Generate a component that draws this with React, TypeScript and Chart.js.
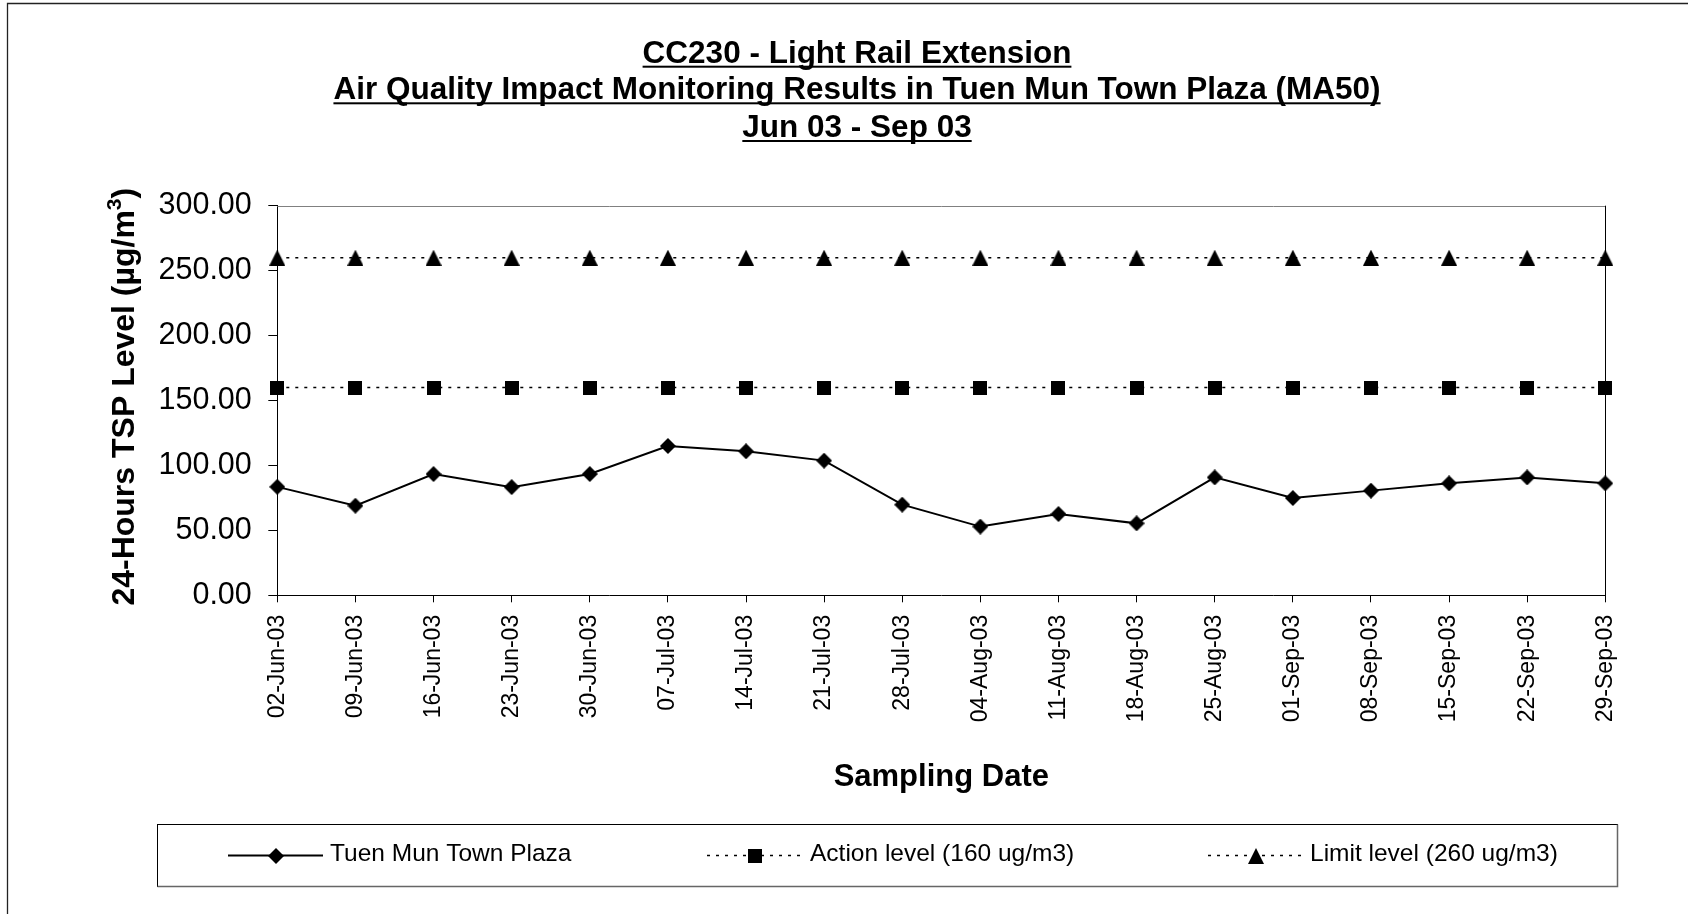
import React, { useEffect, useRef } from 'react';
import { Chart, registerables } from 'chart.js';

Chart.register(...registerables);

const categories = [
  '02-Jun-03', '09-Jun-03', '16-Jun-03', '23-Jun-03', '30-Jun-03', '07-Jul-03',
  '14-Jul-03', '21-Jul-03', '28-Jul-03', '04-Aug-03', '11-Aug-03', '18-Aug-03',
  '25-Aug-03', '01-Sep-03', '08-Sep-03', '15-Sep-03', '22-Sep-03', '29-Sep-03',
];
const plazaValues = [83.5, 69.0, 93.4, 83.3, 93.4, 115.0, 110.9, 103.7, 69.8, 52.9, 62.6, 55.4, 90.8, 74.9, 80.6, 86.2, 90.8, 86.2];
const actionValues = [160, 160, 160, 160, 160, 160, 160, 160, 160, 160, 160, 160, 160, 160, 160, 160, 160, 160];
const limitValues = [260, 260, 260, 260, 260, 260, 260, 260, 260, 260, 260, 260, 260, 260, 260, 260, 260, 260];
const seriesLabels = ['Tuen Mun Town Plaza', 'Action level (160 ug/m3)', 'Limit level (260 ug/m3)'];
const titleLines = [
  'CC230 - Light Rail Extension',
  'Air Quality Impact Monitoring Results in Tuen Mun Town Plaza (MA50)',
  'Jun 03 - Sep 03',
];
const yMin = 0;
const yMax = 300;
const yStep = 50;
const xAxisTitle = 'Sampling Date';
const yAxisTitleMain = '24-Hours TSP Level (\u00b5g/m';
const yAxisTitleSup = '3';
const yAxisTitleEnd = ')';

const FONT = '"Liberation Sans", Arial, sans-serif';

function makeMarker(kind: string): HTMLCanvasElement {
  const c = document.createElement('canvas');
  let w = 16, h = 16;
  if (kind === 'square') { w = 14; h = 14; }
  if (kind === 'triangle') { w = 16; h = 16; }
  c.width = w; c.height = h;
  const g = c.getContext('2d')!;
  g.fillStyle = '#000';
  g.beginPath();
  if (kind === 'diamond') {
    g.moveTo(w / 2, 0); g.lineTo(w, h / 2); g.lineTo(w / 2, h); g.lineTo(0, h / 2);
  } else if (kind === 'square') {
    g.rect(0, 0, w, h);
  } else {
    g.moveTo(w / 2, 0); g.lineTo(w, h); g.lineTo(0, h);
  }
  g.closePath();
  g.fill();
  return c;
}

export default function App() {
  const ref = useRef<HTMLCanvasElement | null>(null);

  useEffect(() => {
    if (!ref.current) return;
    const diamond = makeMarker('diamond');
    const square = makeMarker('square');
    const triangle = makeMarker('triangle');
    const markers = [diamond, square, triangle];

    const decor = {
      id: 'decor',
      beforeDraw(chart: any) {
        const ctx = chart.ctx;
        ctx.save();
        ctx.fillStyle = '#fff';
        ctx.fillRect(0, 0, chart.width, chart.height);
        ctx.restore();
      },
      beforeDatasetsDraw(chart: any) {
        const { ctx, chartArea } = chart;
        ctx.save();
        ctx.lineWidth = 1;
        ctx.strokeStyle = '#808080';
        ctx.beginPath();
        ctx.moveTo(chartArea.left, Math.round(chartArea.top) + 0.5);
        ctx.lineTo(chartArea.right, Math.round(chartArea.top) + 0.5);
        ctx.stroke();
        ctx.strokeStyle = '#000';
        ctx.beginPath();
        ctx.moveTo(Math.round(chartArea.right) + 0.5, chartArea.top);
        ctx.lineTo(Math.round(chartArea.right) + 0.5, chartArea.bottom);
        ctx.stroke();
        ctx.restore();
      },
      afterDraw(chart: any) {
        const { ctx, chartArea } = chart;
        ctx.save();
        // outer chart border
        ctx.strokeStyle = '#222';
        ctx.lineWidth = 1.3;
        ctx.beginPath();
        ctx.moveTo(7.5, chart.height);
        ctx.lineTo(7.5, 3.5);
        ctx.lineTo(chart.width, 3.5);
        ctx.stroke();

        // title
        ctx.fillStyle = '#000';
        ctx.font = 'bold 31.5px ' + FONT;
        ctx.textBaseline = 'alphabetic';
        ctx.textAlign = 'left';
        const titleCenter = 857;
        const titleY = [51.7, 88.3, 126];
        titleLines.forEach((t, i) => {
          const w = ctx.measureText(t).width;
          const x0 = titleCenter - w / 2;
          const base = titleY[i] + 11;
          ctx.fillText(t, x0, base);
          ctx.fillRect(x0, base + 3, w, 2);
        });

        // x axis title
        ctx.font = 'bold 31px ' + FONT;
        ctx.textAlign = 'center';
        ctx.textBaseline = 'middle';
        ctx.fillText(xAxisTitle, (chartArea.left + chartArea.right) / 2, 777);

        // y axis title (rotated)
        ctx.save();
        ctx.translate(122, 396.7);
        ctx.rotate(-Math.PI / 2);
        ctx.textAlign = 'left';
        ctx.textBaseline = 'alphabetic';
        const mainFont = 'bold 32px ' + FONT;
        const supFont = 'bold 21px ' + FONT;
        ctx.font = mainFont;
        const wMain = ctx.measureText(yAxisTitleMain).width;
        const wEnd = ctx.measureText(yAxisTitleEnd).width;
        ctx.font = supFont;
        const wSup = ctx.measureText(yAxisTitleSup).width;
        const total = wMain + wSup + wEnd;
        let x = -total / 2;
        const base = 11.5;
        ctx.font = mainFont;
        ctx.fillText(yAxisTitleMain, x, base);
        x += wMain;
        ctx.font = supFont;
        ctx.fillText(yAxisTitleSup, x, base - 13);
        x += wSup;
        ctx.font = mainFont;
        ctx.fillText(yAxisTitleEnd, x, base);
        ctx.restore();

        // legend box
        const lx = 157.5, ly = 824.5, lr = 1617.5, lb = 886.5;
        ctx.strokeStyle = '#000';
        ctx.lineWidth = 1;
        ctx.strokeRect(lx, ly, lr - lx, lb - ly);
        ctx.strokeStyle = '#666';
        ctx.lineWidth = 1.5;
        ctx.beginPath();
        ctx.moveTo(lx, lb);
        ctx.lineTo(lr, lb);
        ctx.lineTo(lr, ly);
        ctx.stroke();

        const items = [
          { x1: 228, x2: 323, textX: 330, dash: [] as number[], width: 2 },
          { x1: 707, x2: 803, textX: 810, dash: [3, 6], width: 1.5 },
          { x1: 1208, x2: 1303, textX: 1310, dash: [3, 6], width: 1.5 },
        ];
        const rowY = 855.5;
        items.forEach((it, i) => {
          ctx.strokeStyle = '#000';
          ctx.lineWidth = it.width;
          ctx.setLineDash(it.dash);
          ctx.beginPath();
          ctx.moveTo(it.x1, rowY);
          ctx.lineTo(it.x2, rowY);
          ctx.stroke();
          ctx.setLineDash([]);
          const m = markers[i];
          const cx = (it.x1 + it.x2) / 2;
          ctx.drawImage(m, Math.round(cx - m.width / 2), Math.round(rowY - m.height / 2));
          ctx.fillStyle = '#000';
          ctx.font = '24.5px ' + FONT;
          ctx.textAlign = 'left';
          ctx.textBaseline = 'middle';
          ctx.fillText(chart.data.datasets[i].label, it.textX, rowY - 1.5);
        });
        ctx.restore();
      },
    };

    const chart = new Chart(ref.current, {
      type: 'line',
      data: {
        labels: categories,
        datasets: [
          {
            label: seriesLabels[0],
            data: plazaValues,
            borderColor: '#000',
            backgroundColor: '#000',
            borderWidth: 2,
            pointStyle: diamond as any,
            pointRadius: 8,
            tension: 0,
            clip: false as any,
          },
          {
            label: seriesLabels[1],
            data: actionValues,
            borderColor: '#000',
            backgroundColor: '#000',
            borderWidth: 1.5,
            borderDash: [3, 6],
            pointStyle: square as any,
            pointRadius: 8,
            tension: 0,
            clip: false as any,
          },
          {
            label: seriesLabels[2],
            data: limitValues,
            borderColor: '#000',
            backgroundColor: '#000',
            borderWidth: 1.5,
            borderDash: [3, 6],
            pointStyle: triangle as any,
            pointRadius: 8,
            tension: 0,
            clip: false as any,
          },
        ],
      },
      options: {
        responsive: false,
        animation: false,
        devicePixelRatio: 1,
        layout: { padding: { top: 205.7, right: 82.7, left: 0, bottom: 0 } },
        plugins: {
          legend: { display: false },
          title: { display: false },
          tooltip: { enabled: false },
        },
        scales: {
          x: {
            type: 'category',
            offset: false,
            grid: { display: true, drawOnChartArea: false, drawTicks: true, tickLength: 7, color: '#000', offset: false },
            border: { display: true, color: '#000', width: 1 },
            ticks: {
              autoSkip: false,
              maxRotation: 90,
              minRotation: 90,
              padding: 12.5,
              color: '#000',
              font: { family: FONT, size: 23 },
            },
            afterFit: (scale: any) => { scale.height = 914 - 595.3; },
          },
          y: {
            min: yMin,
            max: yMax,
            grid: { display: true, drawOnChartArea: false, drawTicks: true, tickLength: 9, color: '#000' },
            border: { display: true, color: '#000', width: 1 },
            ticks: {
              stepSize: yStep,
              padding: 16.5,
              color: '#000',
              font: { family: FONT, size: 30.5 },
              callback: (v: any) => Number(v).toFixed(2),
            },
            afterFit: (scale: any) => { scale.width = 277.3; },
          },
        },
      },
      plugins: [decor],
    });
    return () => chart.destroy();
  }, []);

  return (
    <div style={{ position: 'fixed', left: 0, top: 0, width: 1688, height: 914, background: '#fff' }}>
      <canvas ref={ref} width={1688} height={914} style={{ width: 1688, height: 914, display: 'block' }} />
    </div>
  );
}
